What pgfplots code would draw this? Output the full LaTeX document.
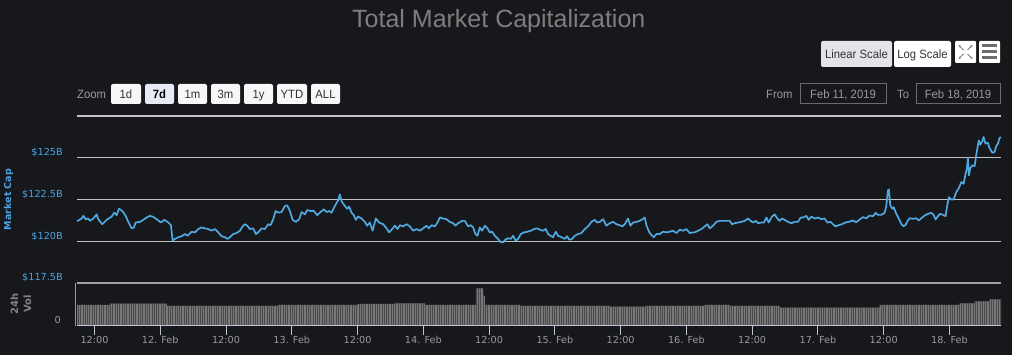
\documentclass[border=0pt]{standalone}
\usepackage{fontspec}
\setmainfont{DejaVu Sans}
\newfontfamily\lib{Liberation Sans}
\newfontfamily\narrow[FakeStretch=0.94]{Liberation Sans}
\usepackage{pgfplots}
\usepackage{pgfplotstable}
\pgfplotsset{compat=1.18}
\usetikzlibrary{patterns.meta,arrows.meta}
\definecolor{bgc}{HTML}{17181B}
\definecolor{gridc}{HTML}{C2C2C2}
\definecolor{labblue}{HTML}{4BA3E3}
\definecolor{linec}{HTML}{4FA8E0}
\definecolor{tickc}{HTML}{9A9A9A}
\definecolor{axisc}{HTML}{C0C4CC}
\definecolor{titlec}{HTML}{7E7E7E}
\definecolor{volc}{HTML}{787878}
\definecolor{volstripe}{HTML}{4A4A4A}
\definecolor{voltop}{HTML}{A0A0A0}
\definecolor{btnsel}{HTML}{E2E4E8}
\definecolor{btnw}{HTML}{F7F7F7}
\definecolor{btnact}{HTML}{E6EBF5}
\definecolor{btntext}{HTML}{333333}
\definecolor{boxc}{HTML}{6B6B6B}

\pgfplotstableread{
h vol
8.81 21
14.83 22.3
25.22 20
45.46 21
60.06 22
66.80 22.7
72.27 21
81.58 37.7
82.91 30
83.22 21
89.60 20
106.01 19.3
112.58 20
123.34 21
127.90 20
137.02 18.3
155.25 21
169.84 22.7
172.58 24.5
175.31 26.5
177.40 27.3
}\voldata

\tikzset{btnfont/.style={font=\narrow\fontsize{12}{14}\selectfont, anchor=base, inner sep=0pt}}

\begin{document}
\begin{tikzpicture}[x=1pt,y=1pt]
\fill[bgc] (0,0) rectangle (1012,355);

% title
\node[anchor=base west, text=titlec, font=\lib\fontsize{25}{30}\selectfont, inner sep=0pt] at (352,327) {Total Market Capitalization};

% scale buttons
\fill[btnsel, rounded corners=2pt] (821,288) rectangle (892,314);
\node[btnfont, text=btntext] at (856.5,296.8) {Linear Scale};
\fill[white, rounded corners=2pt] (894,288) rectangle (951,314);
\node[btnfont, text=btntext] at (922.5,296.8) {Log Scale};
\fill[white, rounded corners=1pt] (955,292) rectangle (976,314);
\begin{scope}[draw=gray, line width=0.8pt, -{Stealth[length=2.5pt,width=2.5pt]}]
\draw (963.5,301) -- (958.5,296);
\draw (967.5,301) -- (972.5,296);
\draw (963.5,305) -- (958.5,310);
\draw (967.5,305) -- (972.5,310);
\end{scope}
\fill[white, rounded corners=1pt] (979,292) rectangle (1000,314);
\fill[gray!85!black] (982,308) rectangle (997,310.5);
\fill[gray!85!black] (982,302) rectangle (997,304.5);
\fill[gray!85!black] (982,296) rectangle (997,298.5);

% zoom row
\node[btnfont, anchor=base west, text=tickc] at (77,256.8) {Zoom};
\foreach \a/\b/\t in {111/141/1d,178/207/1m,211/240/3m,244/273/1y,277/307/YTD,311/340/ALL}{
  \fill[btnw, rounded corners=2pt] (\a,251) rectangle (\b,271);
  \node[btnfont, text=btntext] at ({(\a+\b)/2},256.8) {\t};
}
\fill[btnact, rounded corners=2pt] (145,251) rectangle (174,271);
\node[btnfont, font=\narrow\bfseries\fontsize{12}{14}\selectfont, text=black] at (159.5,256.8) {7d};

\node[btnfont, anchor=base west, text=tickc] at (766,256.8) {From};
\draw[boxc, line width=1pt] (800,251) rectangle (886,271);
\node[btnfont, text=tickc] at (843,256.8) {Feb 11, 2019};
\node[btnfont, anchor=base west, text=tickc] at (897,256.8) {To};
\draw[boxc, line width=1pt] (916,251) rectangle (1000,271);
\node[btnfont, text=tickc] at (958,256.8) {Feb 18, 2019};

% axis titles
\node[rotate=90, font=\bfseries\fontsize{9.5}{11}\selectfont, text=labblue] at (8.5,155.5) {Market Cap};
\node[rotate=90, align=center, font=\bfseries\fontsize{10}{13}\selectfont, text=tickc!85!black, inner sep=0pt] at (21,51) {24h\\Vol};

% main chart
\begin{axis}[
  at={(77pt,72pt)}, anchor=south west,
  scale only axis, width=924pt, height=167pt,
  xmin=8.81, xmax=177.4, ymin=117.5, ymax=127.5,
  axis line style={draw=none},
  xtick=\empty,
  ytick={117.5,120,122.5,125,127.5},
  yticklabels={\$117.5B,\$120B,\$122.5B,\$125B,{}},
  ymajorgrids,
  major grid style={draw=gridc, line width=1.3pt},
  major tick length=0pt,
  yticklabel style={font=\fontsize{9.7}{11}\selectfont, text=labblue, anchor=base east, inner sep=0pt, xshift=-14pt, yshift=2pt},
]
\addplot[linec, line width=1.7pt, line join=round] coordinates {
(8.81,121.22) (8.94,121.22) (9.67,121.36) (9.96,121.52) (10.40,121.32) (10.87,121.36)
(11.18,121.22) (11.78,121.36) (12.40,121.61) (12.69,121.32) (13.42,121.02) (14.22,121.28)
(15.14,121.48) (15.61,121.71) (16.05,121.56) (16.47,121.95) (16.83,121.87) (17.25,121.75)
(17.69,121.52) (18.16,121.16) (18.78,120.77) (19.20,120.83) (19.51,121.12) (20.30,121.16)
(20.90,121.28) (21.52,121.42) (22.12,121.52) (22.72,121.46) (23.34,121.32) (24.13,121.12)
(24.73,121.28) (25.35,121.16) (25.95,120.96) (26.26,120.04) (26.68,120.14) (27.28,120.24)
(27.90,120.30) (28.50,120.43) (29.00,120.33) (29.73,120.57) (30.33,120.53) (30.93,120.73)
(31.55,120.83) (32.15,120.77) (32.75,120.73) (33.37,120.63) (33.98,120.73) (34.58,120.53)
(35.20,120.30) (35.80,120.24) (36.29,120.14) (36.71,120.24) (37.31,120.43) (37.93,120.49)
(38.54,120.63) (39.03,120.89) (39.45,121.02) (39.87,120.93) (40.36,120.73) (40.96,120.77)
(41.45,120.43) (41.87,120.53) (42.49,120.77) (43.09,120.73) (43.70,121.02) (44.13,120.96)
(44.61,121.32) (45.05,121.81) (45.52,121.71) (46.14,121.75) (46.74,122.11) (47.16,122.15)
(47.65,121.81) (48.15,121.28) (48.75,121.16) (49.35,121.32) (49.79,121.75) (50.39,121.61)
(50.81,121.87) (51.43,121.81) (52.03,121.81) (52.63,121.56) (53.25,121.75) (53.85,121.91)
(54.35,121.75) (54.82,121.81) (55.26,121.71) (55.86,122.11) (56.46,122.46) (56.77,122.80)
(57.08,122.40) (57.68,122.11) (58.10,121.95) (58.47,122.07) (58.91,121.71) (59.32,121.56)
(59.69,121.28) (60.11,121.48) (60.73,121.36) (61.33,121.16) (61.75,120.93) (62.24,121.12)
(62.74,120.63) (63.34,121.36) (63.94,121.12) (64.67,121.02) (65.29,120.77) (65.76,120.53)
(66.31,120.73) (66.80,120.93) (67.29,120.73) (67.71,120.96) (68.32,120.89) (68.93,121.02)
(69.54,120.89) (70.14,120.63) (70.76,120.73) (71.36,120.63) (71.96,120.77) (72.58,120.93)
(73.00,120.77) (73.50,120.96) (74.10,120.89) (74.59,121.12) (75.01,121.42) (75.61,121.36)
(76.23,121.32) (76.83,121.16) (77.43,121.08) (77.87,120.93) (78.35,121.08) (79.08,121.22)
(79.57,121.22) (80.17,120.89) (80.66,120.96) (81.08,120.83) (81.52,120.43) (81.88,120.33)
(82.30,120.83) (82.72,120.63) (83.22,120.93) (83.71,120.77) (84.13,120.53) (84.55,120.57)
(85.04,120.33) (85.64,120.14) (86.13,119.94) (86.56,119.94) (86.99,120.10) (87.47,120.18)
(87.96,120.14) (88.38,120.33) (88.81,120.04) (89.29,120.14) (89.78,120.43) (90.38,120.53)
(91.00,120.57) (91.60,120.63) (92.21,120.73) (92.83,120.77) (93.25,120.69) (93.85,120.63)
(94.34,120.73) (94.76,120.43) (95.20,120.33) (95.67,120.24) (96.16,120.57) (96.58,120.33)
(97.20,120.24) (97.81,120.14) (98.22,120.30) (98.59,120.10) (99.03,120.10) (99.63,120.33)
(100.23,120.43) (100.85,120.49) (101.45,120.73) (102.05,120.89) (102.67,121.16) (103.28,121.28)
(103.70,121.12) (104.19,121.16) (104.79,121.32) (105.41,120.93) (106.01,121.08) (106.61,121.16)
(107.23,121.02) (107.83,120.96) (108.33,120.89) (108.75,121.02) (109.35,121.36) (109.78,120.93)
(110.26,121.12) (110.88,121.16) (111.48,121.22) (111.98,121.32) (112.40,121.42) (112.70,120.96)
(113.18,120.57) (113.62,120.37) (114.04,120.24) (114.53,120.43) (115.13,120.43) (115.73,120.57)
(116.35,120.53) (116.95,120.57) (117.56,120.63) (118.18,120.49) (118.78,120.69) (119.38,120.63)
(120.00,120.73) (120.60,120.49) (121.20,120.53) (121.51,120.53) (122.12,120.63) (122.74,120.73)
(123.34,120.89) (123.83,121.02) (124.25,120.77) (124.85,120.93) (125.47,121.16) (126.07,121.22)
(126.67,121.22) (127.29,121.22) (127.90,121.22) (128.32,121.02) (128.81,121.08) (129.41,121.12)
(130.03,121.16) (130.63,121.22) (131.23,121.36) (131.73,121.22) (132.15,121.12) (132.64,121.22)
(133.06,121.08) (133.68,121.12) (134.15,121.12) (134.59,121.42) (135.01,121.12) (135.61,121.48)
(136.10,121.61) (136.60,121.36) (137.02,121.22) (137.43,121.36) (137.93,121.28) (138.53,121.16)
(139.15,121.08) (139.75,121.16) (140.35,121.16) (140.84,121.42) (141.26,121.42) (141.88,121.52)
(142.30,121.28) (142.80,121.48) (143.40,121.36) (144.00,121.42) (144.62,121.32) (145.22,121.36)
(145.71,121.12) (146.32,121.16) (146.74,121.02) (147.17,120.89) (147.77,120.96) (148.37,121.02)
(148.99,121.12) (149.60,121.16) (150.38,121.24) (151.00,121.14) (151.60,121.30) (152.21,121.44)
(152.83,121.38) (153.43,121.54) (154.03,121.50) (154.52,121.70) (154.94,121.58) (155.56,121.58)
(156.16,121.70) (156.47,122.10) (156.77,123.04) (156.95,123.10) (157.20,122.14) (157.57,121.94)
(157.81,122.04) (158.30,121.64) (158.77,121.34) (159.21,121.04) (159.63,120.90) (159.99,120.98)
(160.41,121.24) (160.72,121.38) (161.32,121.34) (161.94,121.38) (162.42,121.24) (162.86,121.38)
(163.46,121.54) (164.06,121.64) (164.68,121.70) (165.10,121.58) (165.47,121.30) (165.88,121.50)
(166.32,121.64) (166.80,121.58) (167.29,121.50) (167.53,122.04) (167.89,122.64) (168.33,122.50)
(168.75,122.50) (169.24,122.94) (169.71,123.18) (170.15,123.54) (170.57,123.44) (170.94,124.04)
(171.17,124.34) (171.36,124.98) (171.54,123.94) (171.79,124.38) (172.16,124.54) (172.58,124.50)
(172.89,125.18) (173.18,125.74) (173.36,126.04) (173.62,125.78) (173.98,125.98) (174.22,126.24)
(174.58,125.84) (175.00,125.90) (175.31,125.58) (175.81,125.30) (176.22,125.34) (176.54,125.70)
(176.83,125.84) (177.14,126.18) (177.40,126.24)
};
\end{axis}

% volume pane
\begin{axis}[
  at={(77pt,29pt)}, anchor=south west,
  scale only axis, width=924pt, height=43pt,
  xmin=8.81, xmax=177.4, ymin=0, ymax=43,
  axis line style={draw=none},
  xtick={12,24,...,168},
  xticklabels={12:00,12. Feb,12:00,13. Feb,12:00,14. Feb,12:00,15. Feb,12:00,16. Feb,12:00,17. Feb,12:00,18. Feb},
  xtick pos=bottom, tick align=outside,
  major tick length=9pt,
  xtick style={draw=axisc, line width=1pt},
  ytick={0}, yticklabels={0}, ytick style={draw=none}, ytick pos=left,
  xticklabel style={font=\fontsize{9.7}{11}\selectfont, text=tickc, anchor=north, inner sep=0pt, yshift=-1pt},
  yticklabel style={font=\fontsize{9.7}{11}\selectfont, text=tickc, anchor=base east, inner sep=0pt, xshift=-7pt, yshift=2pt},
]
\addplot[const plot, fill=volc, draw=none] table[x=h, y=vol] {\voldata} \closedcycle;
\addplot[const plot, draw=none, pattern={Lines[angle=90,distance=2.3pt,line width=0.6pt]}, pattern color=volstripe] table[x=h, y=vol] {\voldata} \closedcycle;
\draw[voltop, line width=2pt] (rel axis cs:0,1) -- (rel axis cs:1,1);
\draw[axisc, line width=1pt] (rel axis cs:0,0) -- (rel axis cs:1,0);
\end{axis}
\draw[tickc, line width=1pt] (75,29) -- (75,72);

\pgfresetboundingbox
\useasboundingbox (0,0) rectangle (1012,355);
\end{tikzpicture}
\end{document}
